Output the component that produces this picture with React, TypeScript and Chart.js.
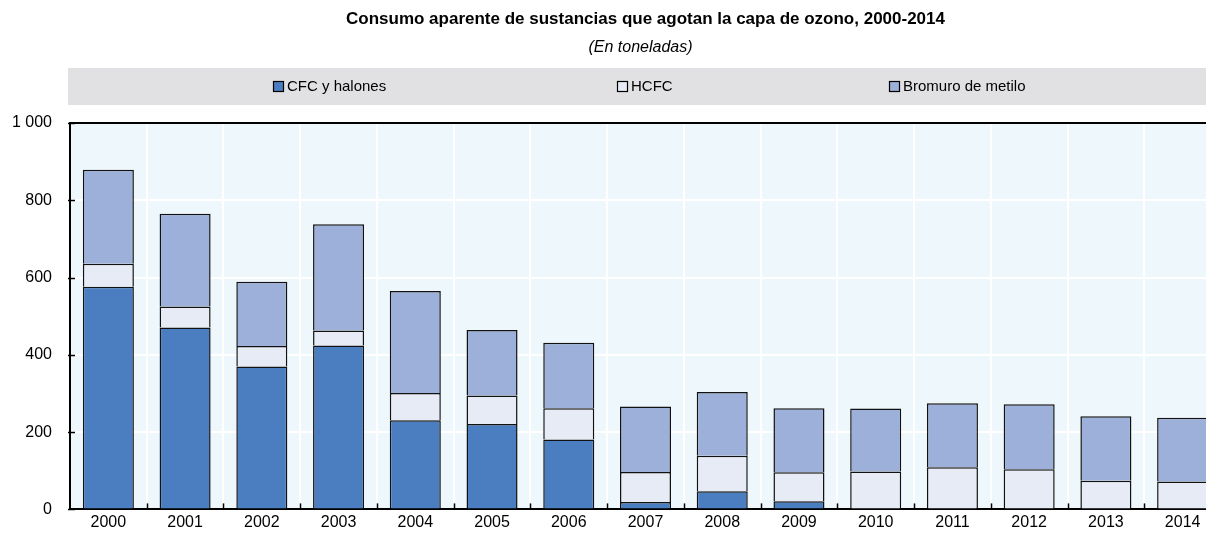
import React, { useEffect, useRef } from "react";
import { Chart, registerables } from "chart.js";
Chart.register(...registerables);

const TITLE = "Consumo aparente de sustancias que agotan la capa de ozono, 2000-2014";
const SUBTITLE = "(En toneladas)";
const years = ["2000", "2001", "2002", "2003", "2004", "2005", "2006", "2007", "2008", "2009", "2010", "2011", "2012", "2013", "2014"];
const seriesNames = ["CFC y halones", "HCFC", "Bromuro de metilo"];
// no CFC segment drawn from 2010 onwards
const cfc = [576, 471, 370, 424, 231, 221, 181, 19, 47, 21, null, null, null, null, null];
const hcfc = [60, 54, 53, 39, 70, 74, 81, 78, 92, 75, 98, 109, 104, 74, 72];
const bromuro = [243, 240, 166, 275, 264, 169, 169, 169, 165, 166, 163, 166, 168, 167, 165];
const yTicks = [0, 200, 400, 600, 800, 1000];

const colors = ["#4A7EC0", "#E7EBF6", "#9CB0DA"];
const FONT = "'Liberation Sans', Arial, sans-serif";

const fmt = (v: number) => String(v).replace(/\B(?=(\d{3})+(?!\d))/g, " ");

const decor = {
  id: "decor",
  beforeDraw(chart: any) {
    const { ctx, chartArea: a } = chart;
    ctx.save();
    ctx.fillStyle = "#EEF7FB";
    ctx.fillRect(a.left, a.top, a.right - a.left, a.bottom - a.top);
    // title
    const cx = (a.left + a.right) / 2;
    ctx.fillStyle = "#000";
    ctx.textAlign = "center";
    ctx.textBaseline = "middle";
    ctx.font = `bold 17px ${FONT}`;
    ctx.fillText(TITLE, cx, 19);
    ctx.font = `italic 16px ${FONT}`;
    ctx.fillText(SUBTITLE, cx - 5, 48);
    // legend band
    ctx.fillStyle = "#E1E1E3";
    ctx.fillRect(68, 68, chart.width - 68, 37);
    ctx.font = `15px ${FONT}`;
    ctx.textAlign = "left";
    const centers = [cx - 316, cx - 1, cx + 312];
    chart.data.datasets.forEach((ds: any, i: number) => {
      const label = ds.label as string;
      const tw = ctx.measureText(label).width;
      const total = 11 + 3 + tw;
      const x0 = Math.round(centers[i] - total / 2);
      ctx.fillStyle = ds.backgroundColor;
      ctx.fillRect(x0 + 0.5, 81.5, 10, 10);
      ctx.strokeStyle = "#000";
      ctx.lineWidth = 1.2;
      ctx.strokeRect(x0 + 0.5, 81.5, 10, 10);
      ctx.fillStyle = "#000";
      ctx.fillText(label, x0 + 14, 87);
    });
    ctx.restore();
  },
  afterDraw(chart: any) {
    const { ctx, chartArea: a, scales } = chart;
    const ys = scales.y;
    ctx.save();
    ctx.strokeStyle = "#000";
    ctx.lineWidth = 1.5;
    const n = years.length;
    const step = (a.right - a.left) / n;
    for (let i = 1; i < n; i++) {
      const x = Math.round(a.left + i * step) + 0.5;
      ctx.beginPath();
      ctx.moveTo(x, a.bottom);
      ctx.lineTo(x, a.bottom - 6);
      ctx.stroke();
    }
    yTicks.forEach((v) => {
      const y = Math.round(ys.getPixelForValue(v)) + 0.5;
      ctx.beginPath();
      ctx.moveTo(a.left - 2, y);
      ctx.lineTo(a.left + 5, y);
      ctx.stroke();
    });
    ctx.restore();
  },
};

export default function App() {
  const ref = useRef<HTMLCanvasElement | null>(null);
  useEffect(() => {
    document.body.style.margin = "0";
    const canvas = ref.current!;
    const chart = new Chart(canvas, {
      type: "bar",
      data: {
        labels: years,
        datasets: [cfc, hcfc, bromuro].map((d, i) => ({
          label: seriesNames[i],
          data: d as any,
          backgroundColor: colors[i],
          borderColor: "#111",
          borderWidth: 1.5,
          barPercentage: 0.665,
          categoryPercentage: 1,
        })),
      },
      options: {
        animation: false,
        responsive: false,
        devicePixelRatio: 1,
        layout: { padding: { top: 123, left: 0, right: 0, bottom: 0 } },
        plugins: {
          legend: { display: false },
          title: { display: false },
          tooltip: { enabled: false },
        },
        scales: {
          x: {
            stacked: true,
            afterFit: (s: any) => { s.height = 24; },
            grid: { color: "#FFFFFF", lineWidth: 2, drawTicks: false, offset: true },
            border: { color: "#000", width: 2 },
            ticks: { color: "#000", font: { family: FONT, size: 16 }, padding: 4, maxRotation: 0 },
          },
          y: {
            stacked: true,
            min: 0,
            max: 1000,
            afterFit: (s: any) => { s.width = 70; },
            afterBuildTicks: (s: any) => { s.ticks = yTicks.map((v) => ({ value: v })); },
            grid: {
              color: (c: any) => (c.tick && c.tick.value === 1000 ? "#000" : "#FFFFFF"),
              lineWidth: 2,
              drawTicks: false,
            },
            border: { color: "#000", width: 2 },
            ticks: { color: "#000", font: { family: FONT, size: 16 }, padding: 18, callback: (v: any) => fmt(Number(v)) },
          },
        },
      },
      plugins: [decor],
    });
    return () => chart.destroy();
  }, []);
  return (
    <div style={{ width: 1206, height: 537, overflow: "hidden", position: "relative" }}>
      <canvas ref={ref} width={1221} height={537} style={{ display: "block" }} />
    </div>
  );
}
